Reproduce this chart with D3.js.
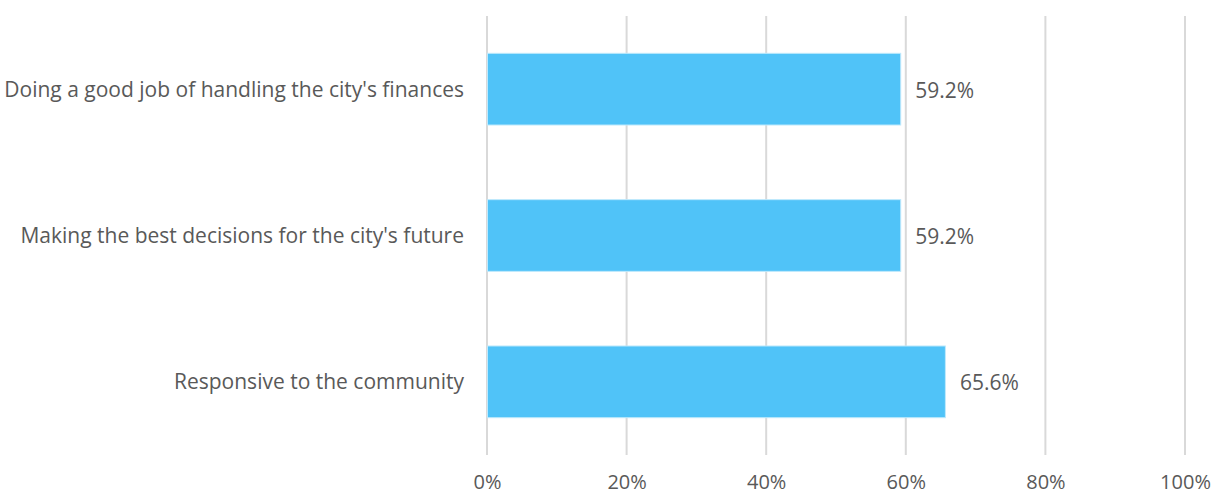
<!DOCTYPE html>
<html>
<head>
<meta charset="utf-8">
<script src="https://cdn.jsdelivr.net/npm/d3@7"></script>
<style>
  html, body { margin: 0; padding: 0; background: #fff; }
  svg text { font-family: "Open Sans", sans-serif; fill: #595959; }
</style>
</head>
<body>
<svg id="chart" width="1214" height="495"></svg>
<script>
const categories = [
  "Doing a good job of handling the city's finances",
  "Making the best decisions for the city's future",
  "Responsive to the community"
];
const values = [59.2, 59.2, 65.6];
const tickValues = [0, 20, 40, 60, 80, 100];

const svg = d3.select("#chart");
const margin = { left: 487, right: 29, top: 16, bottom: 40 };
const width = 1214, height = 495;
const fontSize = 21;

const x = d3.scaleLinear().domain([0, 100]).range([margin.left, width - margin.right]);
const y = d3.scaleBand().domain(categories)
  .range([margin.top, height - margin.bottom])
  .paddingInner(0.51).paddingOuter(0.255);

// vertical gridlines
svg.append("g").selectAll("line").data(tickValues).join("line")
  .attr("x1", d => x(d)).attr("x2", d => x(d))
  .attr("y1", margin.top).attr("y2", height - margin.bottom)
  .attr("stroke", "#d9d9d9").attr("stroke-width", 2);

// bottom axis labels (baseline kept clear of the bottom edge)
const xAxis = d3.axisBottom(x).tickValues(tickValues)
  .tickFormat(d => d + "%").tickSize(0).tickPadding(0);
const gx = svg.append("g").attr("transform", `translate(0,489)`).call(xAxis);
gx.select(".domain").remove();
gx.selectAll("text").attr("font-size", 20).attr("dy", "0")
  .style("font-family", "Open Sans, sans-serif").style("fill", "#595959");

// bars
svg.append("g").selectAll("rect").data(values).join("rect")
  .attr("x", x(0) + 0.5)
  .attr("y", (d, i) => y(categories[i]))
  .attr("width", d => x(d) - x(0))
  .attr("height", y.bandwidth())
  .attr("fill", "#50C3F8")
  .attr("stroke", "#bfe9fc").attr("stroke-width", 1);

// value labels
svg.append("g").selectAll("text").data(values).join("text")
  .attr("x", d => x(d) + 15)
  .attr("y", (d, i) => y(categories[i]) + y.bandwidth() / 2 + 1)
  .attr("dy", "0.35em")
  .attr("font-size", fontSize)
  .text(d => d.toFixed(1) + "%");

// category labels
svg.append("g").selectAll("text").data(categories).join("text")
  .attr("x", margin.left - 23)
  .attr("y", d => y(d) + y.bandwidth() / 2)
  .attr("dy", "0.35em")
  .attr("text-anchor", "end")
  .attr("font-size", fontSize)
  .text(d => d);
</script>
</body>
</html>
